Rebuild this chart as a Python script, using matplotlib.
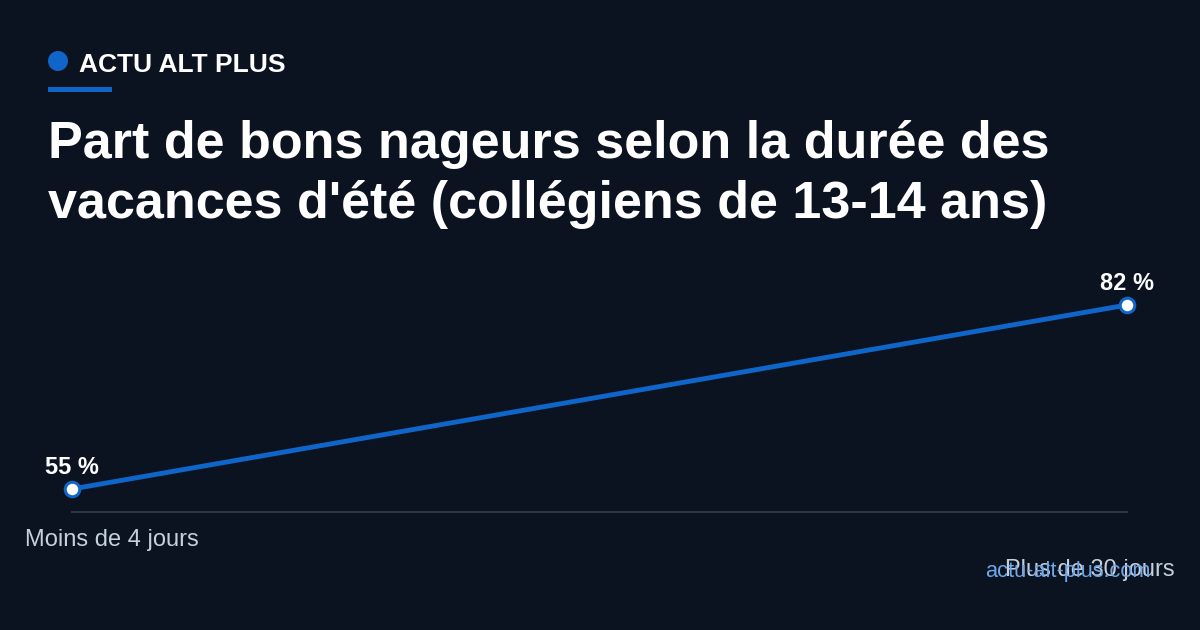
import matplotlib
matplotlib.use("Agg")
import matplotlib.pyplot as plt
from matplotlib.patches import Ellipse, Rectangle

categories = ["Moins de 4 jours", "Plus de 30 jours"]
values = [55, 82]
value_labels = ["55 %", "82 %"]
brand = "ACTU ALT PLUS"
title_lines = ["Part de bons nageurs selon la durée des",
               "vacances d'été (collégiens de 13-14 ans)"]
source = "actu-alt-plus.com"

BG = "#0b1220"
BLUE = "#0f65c8"
W, H = 1200, 630
FONT = ["Liberation Sans", "DejaVu Sans"]

plt.rcParams['font.family'] = FONT
fig = plt.figure(figsize=(12, 6.3), dpi=100)
fig.patch.set_facecolor(BG)

def fx(px):
    return px / W

def fy(py):
    return 1 - py / H

# brand header
fig.patches.append(Ellipse((fx(58), fy(61)), 20 / W, 20 / H, transform=fig.transFigure,
                           facecolor=BLUE, edgecolor='none'))
fig.patches.append(Rectangle((fx(48), fy(92)), 64 / W, 5 / H, transform=fig.transFigure,
                             facecolor=BLUE, edgecolor='none'))
fig.text(fx(79), fy(72), brand, color='white', fontsize=19, fontweight='bold',
         va='baseline', ha='left')

# title
for i, line in enumerate(title_lines):
    fig.text(fx(48), fy(158 + 60 * i), line, color='white', fontsize=37.5,
             fontweight='bold', va='baseline', ha='left')

# axes
ax = fig.add_axes([fx(72), fy(512), 1055 / W, (512 - 270) / H])
ax.set_facecolor('none')
ax.set_xlim(0, 1)
ax.set_ylim(51.625, 51.625 + (512 - 270) / 6.815)
for s in ax.spines.values():
    s.set_visible(False)
ax.set_xticks([])
ax.set_yticks([])
ax.axhline(51.625, color="#2b3547", lw=1.5, clip_on=False)

xs = list(range(len(values)))
ax.plot(xs, values, color=BLUE, lw=3.5, solid_capstyle='round', clip_on=False, zorder=3)
ax.scatter(xs, values, s=110, facecolor='white', edgecolor=BLUE, linewidths=2.2,
           clip_on=False, zorder=4)
for x, v, lab in zip(xs, values, value_labels):
    ax.annotate(lab, (x, v), xytext=(0, 10.5), textcoords='offset points',
                ha='center', va='baseline', color='white', fontsize=17,
                fontweight='bold', annotation_clip=False)

# category labels
fig.text(fx(112), fy(546), categories[0], color="#c5d0de", fontsize=17,
         ha='center', va='baseline')
fig.text(fx(1175), fy(576), categories[1], color="#c5d0de", fontsize=17,
         ha='right', va='baseline')

# source watermark
fig.text(fx(1150), fy(577), source, color="#6fa6e6", fontsize=15.7,
         ha='right', va='baseline')

fig.savefig("out.png", dpi=100, facecolor=BG)
